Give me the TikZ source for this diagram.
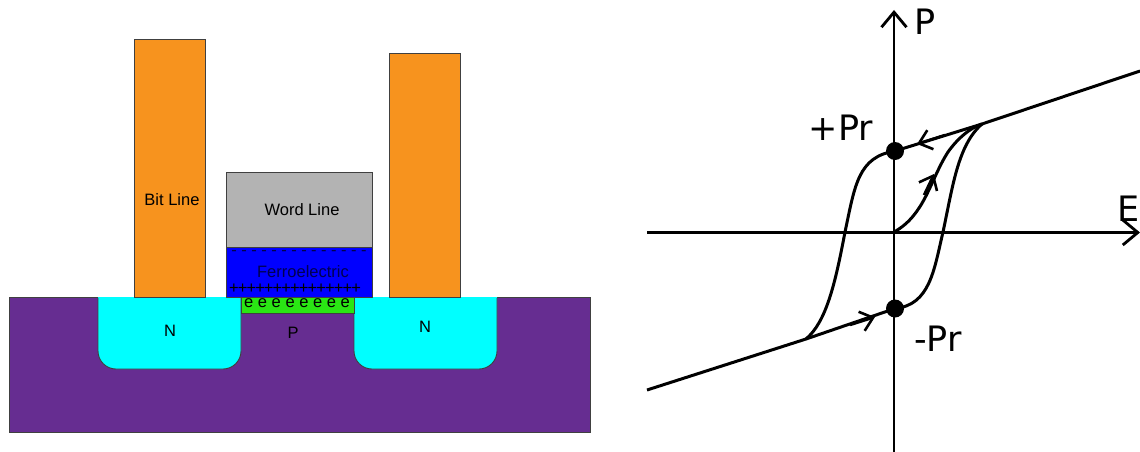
\documentclass[tikz,border=0pt]{standalone}
\usepackage{fontspec}
\setmainfont{Liberation Sans}
\newfontfamily\plotfont{DejaVu Sans}
\usetikzlibrary{arrows.meta}
\definecolor{bulk}{HTML}{662D91}
\definecolor{well}{HTML}{00FFFF}
\definecolor{metal}{HTML}{F7931E}
\definecolor{gate}{HTML}{B3B3B3}
\definecolor{ferro}{HTML}{0000FF}
\definecolor{channel}{HTML}{2AE614}
\definecolor{ferrotext}{HTML}{000050}
\tikzset{
  part/.style={draw=black!75,line width=0.9pt},
  small/.style={font=\fontsize{16.5}{16.5}\selectfont,inner sep=0pt},
  big/.style={font=\plotfont\fontsize{35}{35}\selectfont,inner sep=0pt},
  curve/.style={line width=3pt},
  barb/.style={line width=2.6pt,-{Straight Barb[length=12pt,width=20pt,line width=2.6pt]}},
  axis/.style={line width=2.8pt,-{Straight Barb[length=15pt,width=25pt,line width=2.8pt]}}
}
\begin{document}
\begin{tikzpicture}[x=1pt,y=-1pt]
  \useasboundingbox (0,0) rectangle (1140,452);

  % transistor
  \fill[bulk,draw=black!75,line width=0.9pt] (9,297) rectangle (590.5,432);
  \draw[part,fill=well,rounded corners=18pt] (98,297) [sharp corners] -- (98,320) [rounded corners=18pt] -- (98,369) -- (241,369) -- (241,320) [sharp corners] -- (241,297);
  \draw[part,fill=well,rounded corners=18pt] (354,297) [sharp corners] -- (354,320) [rounded corners=18pt] -- (354,369) -- (497,369) -- (497,320) [sharp corners] -- (497,297);
  \draw[well,line width=1pt] (98,297) -- (241,297) (354,297) -- (497,297);
  \draw[part,fill=metal] (134,297) rectangle (205.5,39);
  \draw[part,fill=metal] (389,297) rectangle (460.5,53);
  \draw[part,fill=gate] (226,247) rectangle (372.5,172);
  \draw[part,fill=ferro] (226,297) rectangle (372.5,247);
  \draw[part,fill=channel] (241,313) rectangle (354,297);

  \draw (172,200) node[small] (bitline) {Bit Line};
  \draw (302,210) node[small] (wordline) {Word Line};
  \draw (303,272) node[small,text=ferrotext] (ferroelectric) {Ferroelectric};
  \draw (170,331) node[small] (nleft) {N};
  \draw (425,327) node[small] (nright) {N};
  \draw (293,333) node[small] (pregion) {P};
  \draw (297,303) node[small] (electrons) {e\hspace{4.6pt}e\hspace{4.6pt}e\hspace{4.6pt}e\hspace{4.6pt}e\hspace{4.6pt}e\hspace{4.6pt}e\hspace{4.6pt}e};
  \draw (295,289) node[small] (plusses) {+\hspace{-0.9pt}+\hspace{-0.9pt}+\hspace{-0.9pt}+\hspace{-0.9pt}+\hspace{-0.9pt}+\hspace{-0.9pt}+\hspace{-0.9pt}+\hspace{-0.9pt}+\hspace{-0.9pt}+\hspace{-0.9pt}+\hspace{-0.9pt}+\hspace{-0.9pt}+\hspace{-0.9pt}+\hspace{-0.9pt}+};
  \draw (299,253) node[small,text=ferrotext] (minuses) {-\hspace{4.5pt}-\hspace{4.5pt}-\hspace{4.5pt}-\hspace{4.5pt}-\hspace{4.5pt}-\hspace{4.5pt}-\hspace{4.5pt}-\hspace{4.5pt}-\hspace{4.5pt}-\hspace{4.5pt}-\hspace{4.5pt}-\hspace{4.5pt}-\hspace{4.5pt}-};

  % hysteresis loop
  \coordinate (ylow) at (894,452);
  \coordinate (yhigh) at (894,10);
  \coordinate (xlow) at (647,232.5);
  \coordinate (xhigh) at (1140,232.5);
  \coordinate (origin) at (894,232);
  \coordinate (kneeup) at (982,124);
  \coordinate (kneedown) at (806,339);
  \coordinate (endup) at (1140,71);
  \coordinate (enddown) at (647,390);
  \draw[axis] (ylow) -- (yhigh);
  \draw[axis] (xlow) -- (xhigh);
  \node[circle,fill=black,inner sep=0pt,minimum size=18pt] (pluspr) at (895,151) {};
  \node[circle,fill=black,inner sep=0pt,minimum size=18pt] (minuspr) at (895,308.5) {};

  \draw[curve] (endup) -- (kneeup) -- (pluspr.center);
  \draw[curve] (enddown) -- (kneedown) -- (minuspr.center);
  \draw[curve] (pluspr.center) .. controls (858,157) and (855,185) .. (845,232)
     .. controls (835,285) and (826,322) .. (kneedown);
  \draw[curve] (minuspr.center) .. controls (930,305) and (934,270) .. (943,232)
     .. controls (953,185) and (958,145) .. (kneeup);
  \draw[curve] (origin) .. controls (925,215) and (930,180) .. (948,152)
     .. controls (958,138) and (970,128) .. (kneeup);

  \coordinate (uptail) at (945,135);
  \coordinate (uptip) at (917,144);
  \coordinate (risetail) at (924,195);
  \coordinate (risetip) at (934,174);
  \coordinate (lowtail) at (850,325);
  \coordinate (lowtip) at (875,317);
  \draw[barb] (uptail) -- (uptip);
  \draw[barb] (risetail) -- (risetip);
  \draw[barb] (lowtail) -- (lowtip);

  \draw (925,22) node[big] (plabel) {P};
  \draw (1129,209) node[big] (elabel) {E};
  \draw (841,128) node[big] (plusprlabel) {+Pr};
  \draw (938,339) node[big] (minusprlabel) {-Pr};
\end{tikzpicture}
\end{document}
